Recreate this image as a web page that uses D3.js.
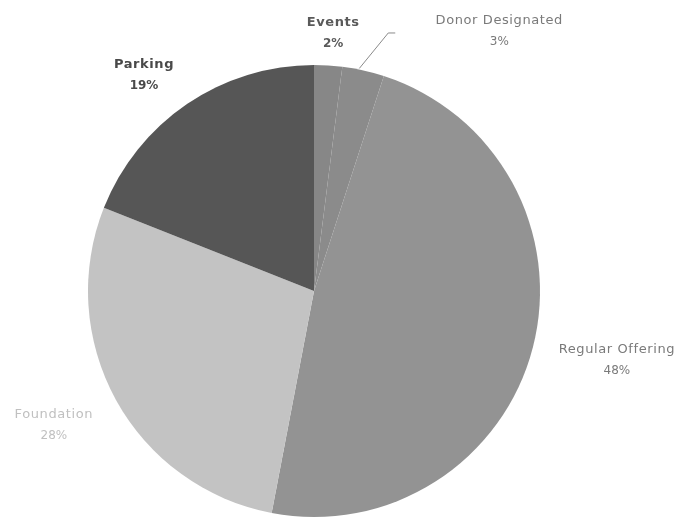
<!DOCTYPE html>
<html>
<head>
<meta charset="utf-8">
<script src="https://cdn.jsdelivr.net/npm/d3@7"></script>
<style>
  html, body { margin: 0; padding: 0; background: #fff; }
  svg { display: block; }
  text { font-family: "DejaVu Sans", "Open Sans", sans-serif; }
</style>
</head>
<body>
<svg id="chart" width="676" height="522"></svg>
<script>
// ---- data ----
const categories = ["Events", "Donor Designated", "Regular Offering", "Foundation", "Parking"];
const values = [2, 3, 48, 28, 19];
const percentLabels = ["2%", "3%", "48%", "28%", "19%"];

// ---- styling / layout ----
const sliceColors = ["#878787", "#8b8b8b", "#939393", "#c3c3c3", "#565656"];
const labelColors = ["#5a5a5a", "#7a7a7a", "#7a7a7a", "#c0c0c0", "#4a4a4a"];
const labelWeights = ["bold", "normal", "normal", "normal", "bold"];
const labelOffsets = [[1, 30], [122, 22], [22, -4], [-6, -7], [-7, 23]];

const W = 676, H = 522;
const cx = 314, cy = 291, R = 226, labelR = 290;

const svg = d3.select("#chart");
const defs = svg.append("defs");
defs.append("filter").attr("id", "soft")
  .append("feGaussianBlur").attr("stdDeviation", 0.6);

const g = svg.append("g").attr("transform", `translate(${cx},${cy})`).attr("filter", "url(#soft)");

const data = categories.map((c, i) => ({ cat: c, value: values[i], pct: percentLabels[i], i }));
const pie = d3.pie().value(d => d.value).sort(null).startAngle(0).endAngle(2 * Math.PI);
const arcs = pie(data);

const arc = d3.arc().innerRadius(0).outerRadius(R);
const labelArc = d3.arc().innerRadius(labelR).outerRadius(labelR);
const edgeArc = d3.arc().innerRadius(R).outerRadius(R);

g.selectAll("path.slice")
  .data(arcs)
  .join("path")
  .attr("class", "slice")
  .attr("d", arc)
  .attr("fill", d => sliceColors[d.data.i])
  .attr("stroke", "none");

// labels
const labels = g.selectAll("g.label")
  .data(arcs)
  .join("g")
  .attr("class", "label")
  .attr("transform", d => {
    const [x, y] = labelArc.centroid(d);
    const [ox, oy] = labelOffsets[d.data.i];
    return `translate(${x + ox},${y + oy})`;
  });

labels.append("text")
  .attr("text-anchor", "middle")
  .attr("y", -6)
  .attr("font-size", 13)
  .attr("letter-spacing", 0.6)
  .attr("font-weight", d => labelWeights[d.data.i])
  .attr("fill", d => labelColors[d.data.i])
  .text(d => d.data.cat);

labels.append("text")
  .attr("text-anchor", "middle")
  .attr("y", 15)
  .attr("font-size", 12)
  .attr("font-weight", d => labelWeights[d.data.i])
  .attr("fill", d => labelColors[d.data.i])
  .text(d => d.data.pct);

// leader line for Donor Designated
const donor = arcs[1];
const [ex, ey] = edgeArc.centroid(donor);
const [lx, ly] = labelArc.centroid(donor);
const [dox, doy] = labelOffsets[1];
const lcx = lx + dox, lcy = ly + doy;
g.append("polyline")
  .attr("points", [[ex - 4, ey - 2], [lcx - 111, lcy + 3], [lcx - 104, lcy + 3]].map(p => p.join(",")).join(" "))
  .attr("fill", "none")
  .attr("stroke", "#8a8a8a")
  .attr("stroke-width", 1);
</script>
</body>
</html>
